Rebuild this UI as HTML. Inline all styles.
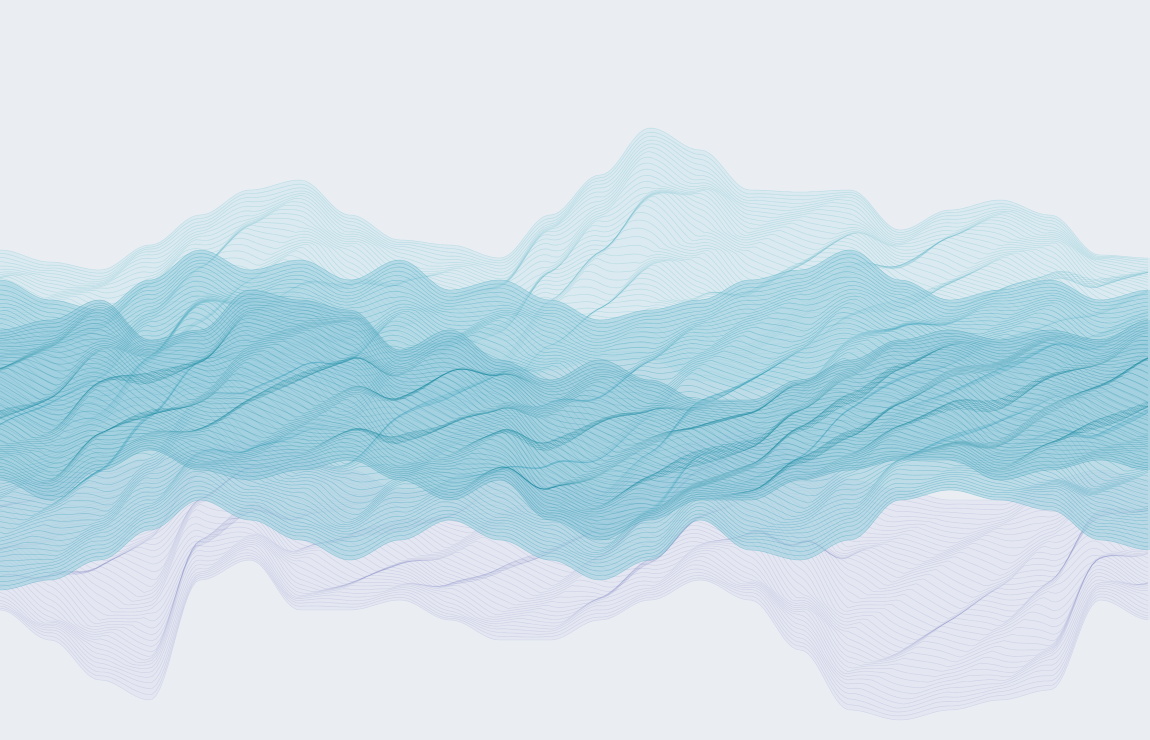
<!DOCTYPE html>
<html><head><meta charset="utf-8"><style>
html,body{margin:0;padding:0;background:#eaeef3;}
svg{display:block}
</style></head><body>
<svg id="chart" width="1150" height="740" viewBox="0 0 1150 740">
<rect width="1150" height="740" fill="#eaeef3"/>
<g id="bands"></g>
</svg>
<script>
const xSamples=[0,50,100,150,200,250,300,350,400,450,500,550,600,650,700,750,800,850,900,950,1000,1050,1100,1150];
const lavTop=[480,480,470,460,450,440,450,470,490,490,470,480,490,470,440,430,450,480,490,500,500,480,470,480];
const lavBottom=[610,640,680,700,580,560,610,610,600,620,640,640,620,600,580,600,650,710,720,710,700,690,600,620];
const lightTop=[250,262,270,245,215,190,180,215,240,245,258,215,175,128,150,190,192,190,230,210,200,215,255,258];
const lightBottom=[420,430,420,400,390,380,380,390,400,410,400,370,360,360,380,390,380,360,350,360,370,370,360,350];
const tealTop=[280,300,310,280,250,270,260,280,260,290,280,300,320,310,300,280,270,250,280,300,290,280,300,290];
const tealBottom=[590,580,560,530,500,520,540,560,540,520,540,560,580,560,520,550,560,540,500,490,500,510,540,550];
const midTop=[330,320,300,340,330,290,300,310,350,330,360,380,360,380,400,400,380,360,340,330,340,330,340,320];
const midBottom=[480,500,470,450,470,480,470,460,480,500,480,520,540,520,500,500,480,470,460,460,480,470,460,470];
const bands=[
 {name:'lavender-band',top:lavTop,bot:lavBottom,fill:'#dfe3f0',stroke:'#7f86c4',op:0.22,n:50,fo:0.6},
 {name:'light-teal-band',top:lightTop,bot:lightBottom,fill:'#cfe7ee',stroke:'#4fb0c4',op:0.25,n:55,fo:0.6},
 {name:'teal-band',top:tealTop,bot:tealBottom,fill:'#9fd0df',stroke:'#1f95b3',op:0.35,n:70,fo:0.6},
 {name:'mid-teal-band',top:midTop,bot:midBottom,fill:'#8cc6da',stroke:'#15879f',op:0.35,n:55,fo:0.5}
];
function interp(arr,x){
  const i=Math.min(xSamples.length-2,Math.max(0,Math.floor(x/50)));
  const t=(x-xSamples[i])/(xSamples[i+1]-xSamples[i]);
  const s=(1-Math.cos(Math.PI*t))/2;
  return arr[i]*(1-s)+arr[i+1]*s;
}
function tri(v){const p=v/(2*Math.PI);return 4*Math.abs(p-Math.floor(p+0.5))-1;}
const g=document.getElementById('bands');
const NS='http://www.w3.org/2000/svg';
bands.forEach((b,bi)=>{
  const grp=document.createElementNS(NS,'g');
  
  
  let d='M0,'+interp(b.top,0);
  for(let x=5;x<=1150;x+=5)d+=' L'+x+','+interp(b.top,x).toFixed(1);
  for(let x=1150;x>=0;x-=5)d+=' L'+x+','+interp(b.bot,x).toFixed(1);
  const area=document.createElementNS(NS,'path');
  area.setAttribute('d',d+'Z');
  area.setAttribute('fill',b.fill);
  area.setAttribute('fill-opacity',b.fo);
  
  
  grp.appendChild(area);
  for(let k=0;k<b.n;k++){
    const f=k/(b.n-1);
    let p='';
    for(let x=0;x<=1150;x+=4){
      const t=interp(b.top,x),bo=interp(b.bot,x);
      const env=Math.sin(f*Math.PI);
      const w=(tri(x/14+k*0.45+bi*1.3)*10+Math.sin(x/37+k*0.3)*6)*env;
      const y=t+(bo-t)*f+w;
      p+=(x?' L':'M')+x+','+y.toFixed(1);
    }
    const ln=document.createElementNS(NS,'path');
    ln.setAttribute('d',p);
    ln.setAttribute('fill','none');
    ln.setAttribute('stroke',b.stroke);
    ln.setAttribute('stroke-width','0.6');
    ln.setAttribute('stroke-opacity',b.op);
    
    
    grp.appendChild(ln);
  }
  g.appendChild(grp);
});
</script>
</body></html>
